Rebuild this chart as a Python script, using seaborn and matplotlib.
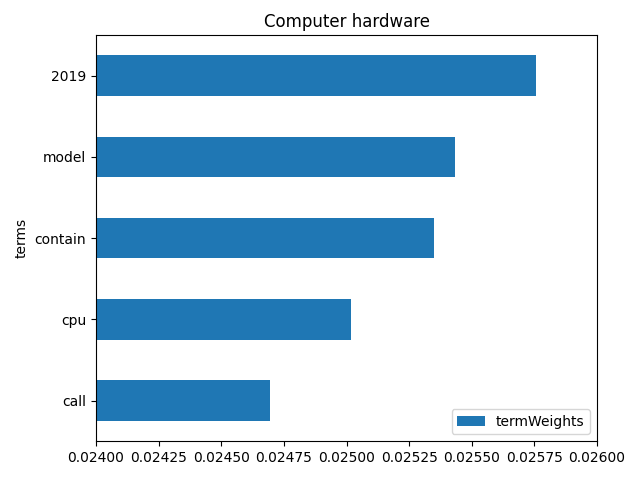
import pandas as pd
import matplotlib
matplotlib.use('Agg')
import matplotlib.pyplot as plt
import seaborn as sns

# 数据
terms = ['2019', 'model', 'contain', 'cpu', 'call']
term_weights = [0.025756, 0.025433, 0.025349, 0.025018, 0.024695]

df = pd.DataFrame({'terms': terms, 'termWeights': term_weights})

fig, ax = plt.subplots(figsize=(6.4, 4.8), dpi=100)
sns.barplot(data=df, x='termWeights', y='terms', order=terms, orient='h',
            color='#1f77b4', saturation=1, width=0.5, ax=ax)
ax.set_xlim(0.024, 0.026)
ax.ticklabel_format(axis='x', useOffset=False, style='plain')
ax.set_xlabel('')
ax.set_ylabel('terms')
ax.set_title('Computer hardware')
ax.legend(handles=[ax.containers[0]], labels=['termWeights'], loc='lower right')
fig.subplots_adjust(left=0.15, right=0.933, top=0.927, bottom=0.081)
plt.savefig('out.png')
